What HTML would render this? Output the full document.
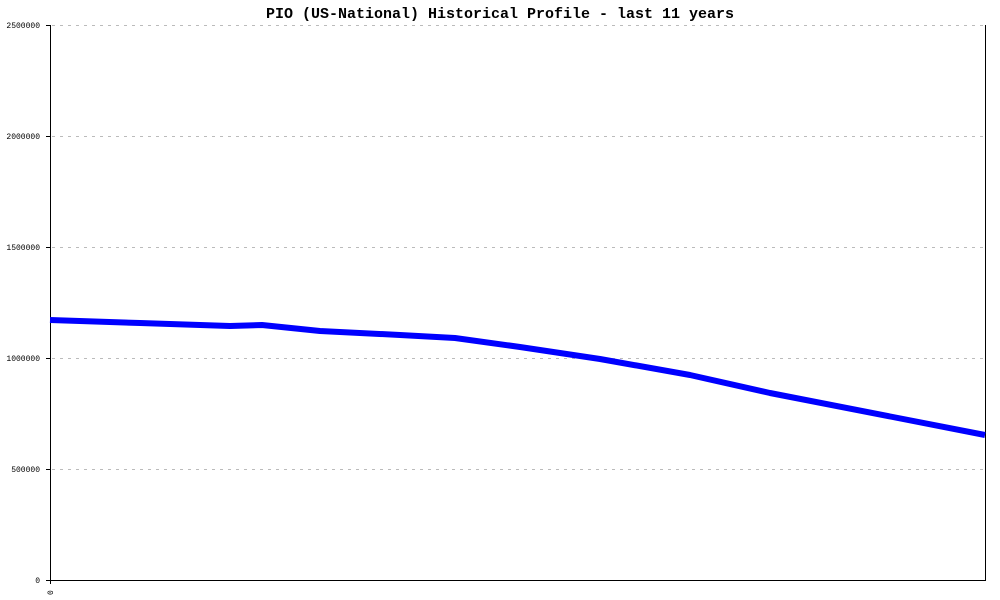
<!DOCTYPE html>
<html><head><meta charset="utf-8"><style>body{margin:0;background:#fff}svg{display:block}</style></head><body>
<svg width="1000" height="600" xmlns="http://www.w3.org/2000/svg" font-family="Liberation Mono, monospace">
<rect width="1000" height="600" fill="#fff"/>
<text x="500" y="18" text-anchor="middle" font-size="15" font-weight="bold" fill="#000">PIO (US-National) Historical Profile - last 11 years</text>
<g stroke="#bbb" stroke-dasharray="3,5" stroke-width="1">
<line x1="52" y1="25.5" x2="985" y2="25.5"/>
<line x1="52" y1="136.5" x2="985" y2="136.5"/>
<line x1="52" y1="247.5" x2="985" y2="247.5"/>
<line x1="52" y1="358.5" x2="985" y2="358.5"/>
<line x1="52" y1="469.5" x2="985" y2="469.5"/>
</g>
<g stroke="#000" stroke-width="1">
<line x1="50.5" y1="25" x2="50.5" y2="584"/>
<line x1="985.5" y1="25" x2="985.5" y2="580"/>
<line x1="50" y1="580.5" x2="986" y2="580.5"/>
<line x1="46" y1="25.5" x2="50" y2="25.5"/>
<line x1="46" y1="136.5" x2="50" y2="136.5"/>
<line x1="46" y1="247.5" x2="50" y2="247.5"/>
<line x1="46" y1="358.5" x2="50" y2="358.5"/>
<line x1="46" y1="469.5" x2="50" y2="469.5"/>
<line x1="46" y1="580.5" x2="50" y2="580.5"/>
</g>
<g font-size="8" text-anchor="end" fill="#000">
<text x="40" y="28">2500000</text>
<text x="40" y="139">2000000</text>
<text x="40" y="250">1500000</text>
<text x="40" y="361">1000000</text>
<text x="40" y="472">500000</text>
<text x="40" y="583">0</text>
</g>
<text transform="translate(53,595) rotate(-90)" font-size="8" fill="#000">0</text>
<polyline fill="none" stroke="#0000ff" stroke-width="6" stroke-linejoin="round" points="50,320 140,323 230,326 262,325 320,331 400,335 455,338 520,347 600,359 690,375 770,393 985,435"/>
</svg>
</body></html>
